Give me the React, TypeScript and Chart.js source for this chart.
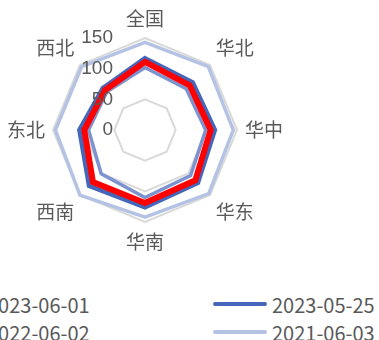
import React, { useEffect, useRef } from "react";
import { Chart, registerables } from "chart.js";

Chart.register(...registerables);

const categories = ["全国", "华北", "华中", "华东", "华南", "西南", "东北", "西北"];
const seriesNames = ["2023-06-01", "2023-05-25", "2022-06-02", "2021-06-03"];
const s20230601 = [111, 103, 107, 116, 119, 120, 99, 92];
const s20230525 = [117, 110, 114, 122, 126, 129, 107, 97];
const s20220602 = [102, 95, 99, 105, 110, 101, 92, 88];
const s20210603 = [143, 146, 144, 147, 142, 150, 146, 146];
const tickValues = [0, 50, 100, 150];

const colors = ["#ff0000", "#4467b9", "#7d93cf", "#b4c2e3"];
const widths = [6, 4.5, 3.5, 3.5];

const tickPlugin = {
  id: "leftTicks",
  afterDatasetsDraw(chart: any) {
    const scale = chart.scales.r;
    const ctx = chart.ctx;
    ctx.save();
    ctx.font = '19px "Liberation Sans", Arial, sans-serif';
    ctx.fillStyle = "#595959";
    ctx.textAlign = "right";
    ctx.textBaseline = "middle";
    for (const v of tickValues) {
      const d = scale.getDistanceFromCenterForValue(v);
      ctx.fillText(String(v), scale.xCenter - 32, scale.yCenter - d);
    }
    ctx.restore();
  },
};

function App() {
  const ref = useRef<HTMLCanvasElement | null>(null);
  useEffect(() => {
    if (!ref.current) return;
    const data = [s20230601, s20230525, s20220602, s20210603];
    const chart = new Chart(ref.current, {
      type: "radar",
      data: {
        labels: categories,
        datasets: data.map((d, i) => ({
          label: seriesNames[i],
          data: d,
          borderColor: colors[i],
          backgroundColor: colors[i],
          borderWidth: widths[i],
          fill: false,
          pointRadius: 0,
          pointHoverRadius: 0,
          tension: 0,
          borderJoinStyle: "miter" as const,
        })),
      },
      options: {
        animation: false,
        responsive: true,
        maintainAspectRatio: false,
        plugins: { legend: { display: false }, tooltip: { enabled: false } },
        scales: {
          r: {
            min: 0,
            max: 150,
            ticks: { stepSize: 50, display: false },
            grid: { color: "#d9d9d9", lineWidth: 2 },
            angleLines: { display: false },
            pointLabels: {
              font: { size: 19, family: '"Noto Sans CJK SC", sans-serif' },
              color: "#595959",
              padding: 8,
            },
          },
        },
      },
      plugins: [tickPlugin],
    });
    return () => chart.destroy();
  }, []);

  const legendItems = [
    { left: -72, top: 304, i: 0 },
    { left: 213, top: 304, i: 1 },
    { left: -72, top: 332, i: 2 },
    { left: 213, top: 332, i: 3 },
  ];

  return (
    <div style={{ position: "fixed", left: 0, top: 0, width: 379, height: 340, overflow: "hidden", background: "#fff" }}>
      <div style={{ position: "absolute", left: 7, top: 8, width: 276, height: 246 }}>
        <canvas ref={ref} />
      </div>
      {legendItems.map((it) => (
        <div
          key={it.i}
          style={{
            position: "absolute",
            left: it.left,
            top: it.top - 15,
            height: 30,
            display: "flex",
            alignItems: "center",
            whiteSpace: "nowrap",
            fontFamily: '"Noto Sans CJK SC", sans-serif',
            fontSize: 20,
            color: "#595959",
          }}
        >
          <span style={{ display: "inline-block", width: 54, height: 3.5, background: colors[it.i], borderRadius: 2, marginRight: 5 }} />
          <span>{seriesNames[it.i]}</span>
        </div>
      ))}
    </div>
  );
}

export default App;
